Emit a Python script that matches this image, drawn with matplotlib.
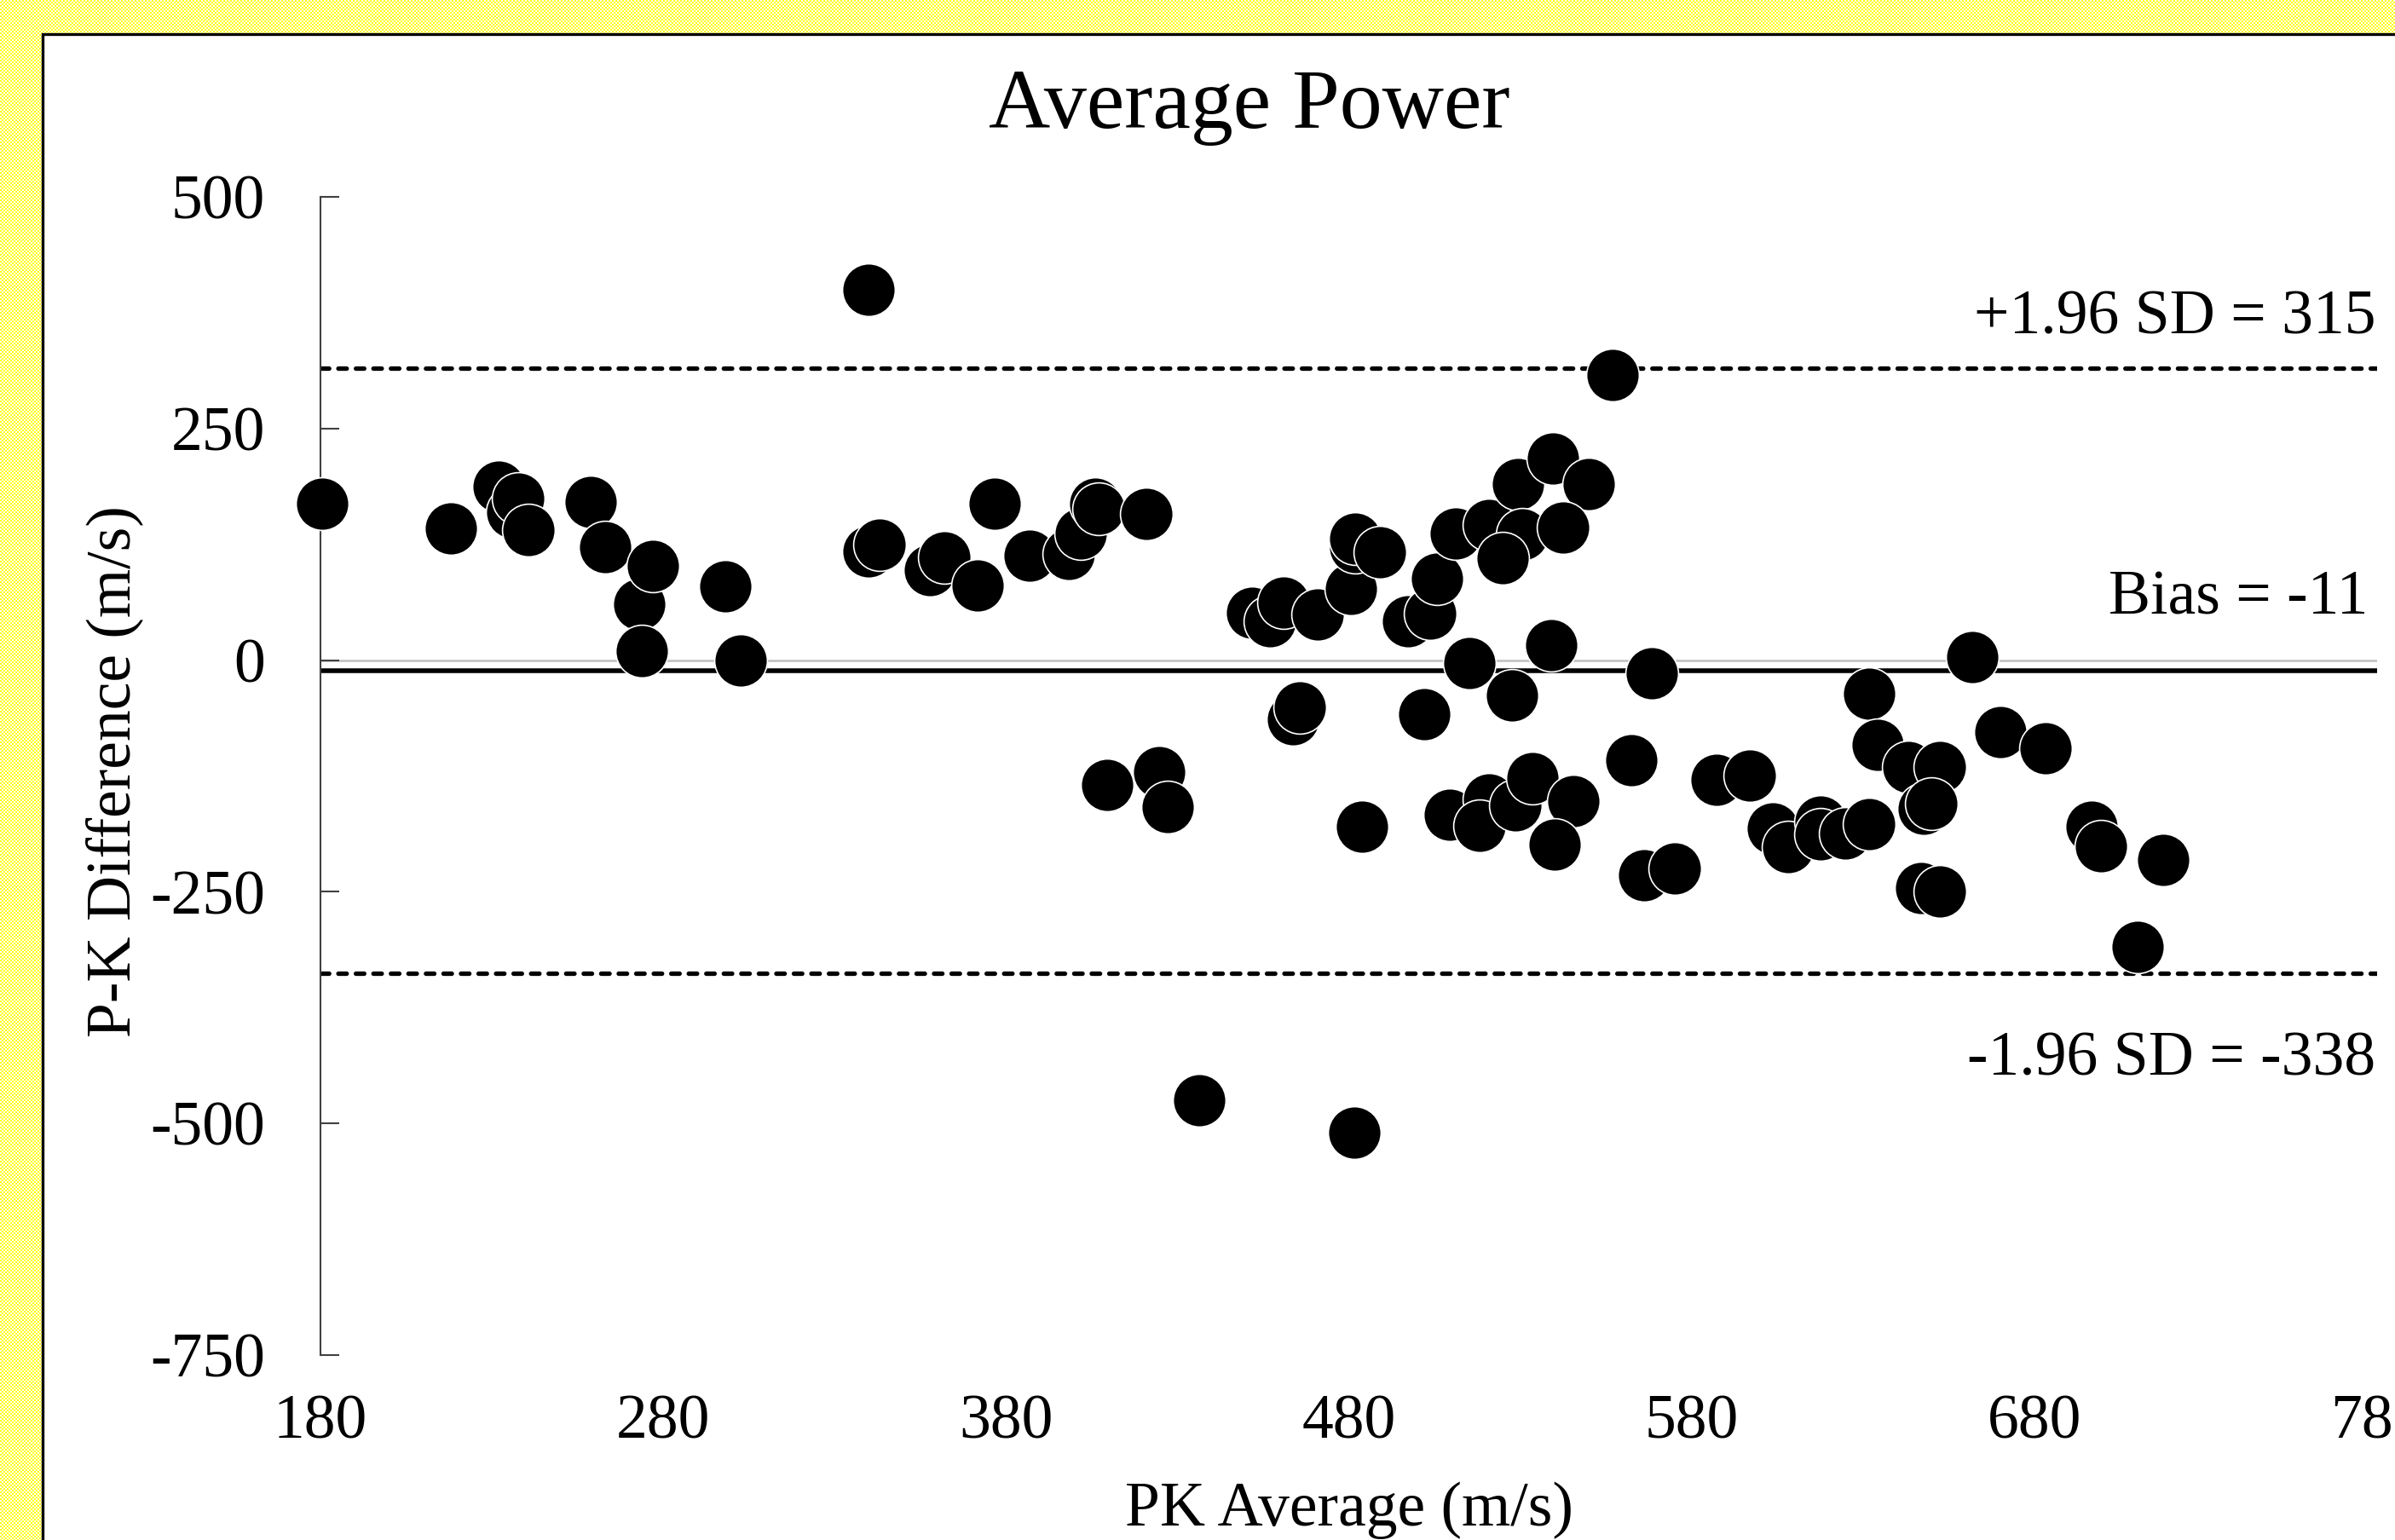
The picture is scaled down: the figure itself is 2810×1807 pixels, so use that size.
import numpy as np
import matplotlib
matplotlib.use("Agg")
import matplotlib.pyplot as plt
from matplotlib.patches import Rectangle

plt.rcParams["font.family"] = ["Liberation Serif", "DejaVu Serif"]
plt.rcParams["axes.unicode_minus"] = False
plt.rcParams["lines.scale_dashes"] = False

# Bland-Altman data
pk_average = [180.5, 218, 232, 236, 237.6, 240.7, 258.7, 263, 273, 273.8, 277, 298, 302.5,
              340, 339.8, 343, 357.7, 362, 371.6, 376.8, 386.8, 398.4, 401.7, 406, 407, 421,
              409.6, 424.6, 427.2, 436.4,
              451.8, 457, 461, 471, 480.5, 481.8, 481.8, 489, 497.4, 503.7, 505.8, 511.3,
              521, 529.4, 539.5, 550, 530.6, 542.6, 524.8, 515.1, 539.1, 527.7, 463.7, 465.6,
              502.1, 557, 481.7,
              483.8, 509.5, 521, 518.2, 528.5, 533.7, 545.6, 540, 562.5, 568.3, 566.2, 575.2,
              587.4, 597.1, 603.6, 608.3, 617.7, 617.7, 624.9, 631.8, 631.8, 634.3, 643.2,
              652.4, 647.7, 650, 647, 652.5, 662, 670.1, 683.2, 696.6, 699.4, 710.1, 717.6]
pk_diff = [169, 142, 187, 160, 174, 140, 171, 122, 60, 10, 102, 80, 0,
           400, 117, 125, 97, 111, 81, 169, 113, 115, 137, 169, 163, 158,
           -135, -121, -159, -475,
           51, 42, 62, 49, 77, 122, 131, 116, 42, 50, 88, 137,
           146, 190, 218, 190, 136, 143, 110, -3, 16, -38, -64, -51,
           -58, 308, -510,
           -180, -167, -150, -179, -157, -127, -152, -199, -108, -14, -232, -225,
           -129, -125, -182, -202, -174, -188, -187, -177, -36, -91, -115,
           -115, -160, -155, -246, -250, 3, -78, -95, -180, -201, -309, -216]

bias = -11
upper_loa = 315
lower_loa = -338

x_ticks = [180, 280, 380, 480, 580, 680, 780]
y_ticks = [-750, -500, -250, 0, 250, 500]

W, H = 2810, 1807
fig = plt.figure(figsize=(W / 100, H / 100), dpi=100)

# yellow checkered background
ii, jj = np.indices((H, W))
check = ((ii // 2 + jj // 2) % 2).astype(bool)
bg = np.ones((H, W, 3))
bg[check] = [1.0, 1.0, 0.1]
fig.figimage(bg, 0, 0, zorder=0)

# white chart area with black border
fig.patches.append(Rectangle((50 / W, -0.1), 1.0, 1 - 40 / H + 0.1, transform=fig.transFigure,
                             facecolor="white", edgecolor="black", linewidth=2.4, zorder=1))

ax = fig.add_axes([376 / W, 1 - 1590 / H, (2789 - 376) / W, (1590 - 231) / H])
ax.set_facecolor("none")
ax.set_zorder(2)
ax.set_xlim(180, 780)
ax.set_ylim(-750, 500)

for side in ["top", "right", "bottom"]:
    ax.spines[side].set_visible(False)
ax.spines["left"].set_color("#404040")
ax.spines["left"].set_linewidth(1.5)

ax.set_xticks(x_ticks)
ax.set_xticklabels([str(v) for v in x_ticks])
ax.set_yticks(y_ticks)
ax.set_yticklabels([str(v) for v in y_ticks])
ax.tick_params(axis="y", direction="in", length=16, width=1.5, color="#404040",
               pad=47, labelsize=53)
ax.tick_params(axis="x", length=0, pad=33, labelsize=53)

ax.axhline(0, color="#bfbfbf", linewidth=1.8, zorder=1)
ax.axhline(bias, color="black", linewidth=4.0, solid_capstyle="round", zorder=2)
for lim in [upper_loa, lower_loa]:
    ax.axhline(lim, color="black", linewidth=3.8, linestyle=(0, (7.0, 7.8)),
               dash_capstyle="round", zorder=2)

ax.scatter(pk_average, pk_diff, s=1980, color="black", edgecolors="white",
           linewidths=1.2, zorder=3, clip_on=False)

ax.annotate("+1.96 SD = %d" % upper_loa, xy=(780, upper_loa), xytext=(-1, 29.5),
            textcoords="offset points", ha="right", va="baseline", fontsize=53)
ax.annotate("Bias = %d" % bias, xy=(780, bias), xytext=(-8, 47.5),
            textcoords="offset points", ha="right", va="baseline", fontsize=53)
ax.annotate("-1.96 SD = %d" % lower_loa, xy=(780, lower_loa), xytext=(-1, -85.7),
            textcoords="offset points", ha="right", va="baseline", fontsize=53)

fig.text(1466 / W, 1 - 150 / H, "Average Power", ha="center", va="baseline", fontsize=72)
fig.text(134 / W, 1 - 905 / H, "P-K Difference (m/s)", rotation=90,
         ha="center", va="center", fontsize=53)
fig.text(1583 / W, 1 - 1790 / H, "PK Average (m/s)", ha="center", va="baseline", fontsize=53)

fig.savefig("out.png", dpi=100)
